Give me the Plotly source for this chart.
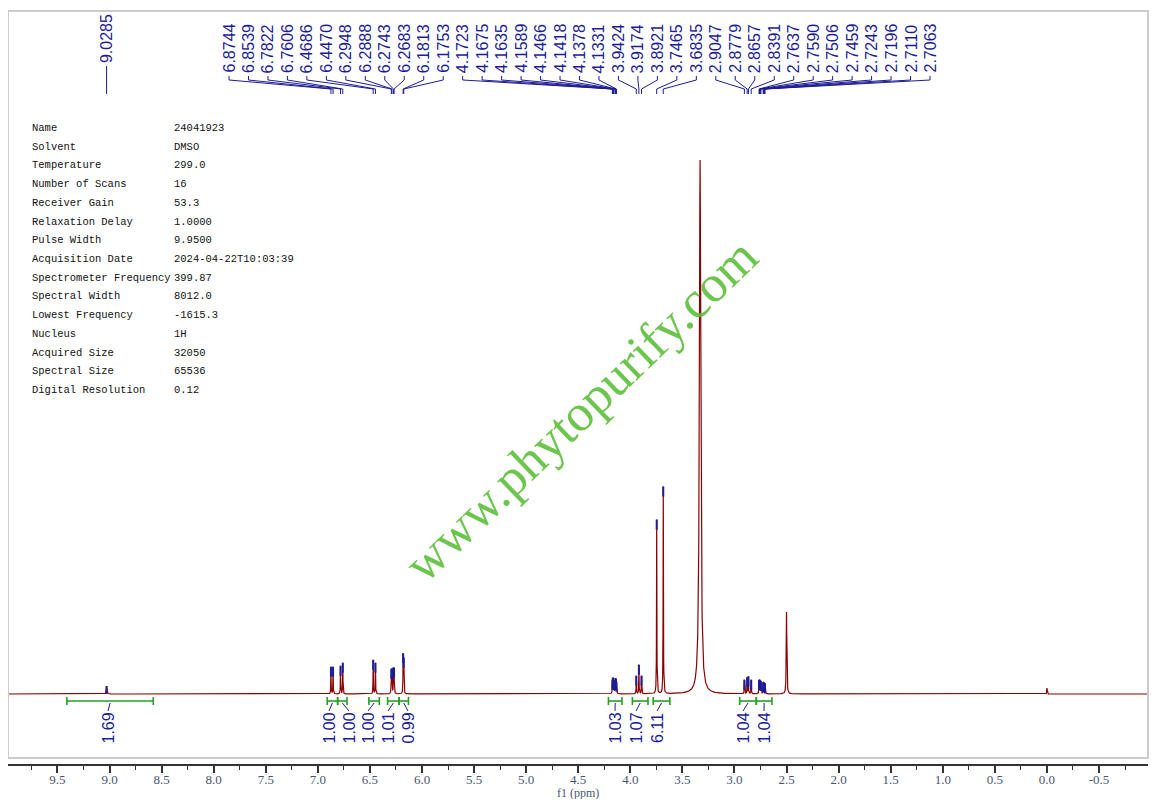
import numpy as np
import plotly.graph_objects as go

# ---- data -----------------------------------------------------------------
# picked peaks (ppm) and apparent height above baseline (same units as y axis)
pick_ppm = [9.0285,
            6.8744, 6.8539, 6.7822, 6.7606, 6.4686, 6.4470,
            6.2948, 6.2888, 6.2743, 6.2683, 6.1813, 6.1753,
            4.1723, 4.1675, 4.1635, 4.1589, 4.1466, 4.1418, 4.1378, 4.1331,
            3.9424, 3.9174, 3.8921, 3.7465, 3.6835,
            2.9047, 2.8779, 2.8657, 2.8391, 2.7637, 2.7590, 2.7506, 2.7459,
            2.7243, 2.7196, 2.7110, 2.7063]
pick_height = [8,
               27, 27, 28, 31, 34, 31,
               23, 23, 24, 24, 38, 33,
               12, 12, 12, 11, 11, 12, 11, 10,
               18, 29, 18, 174, 207,
               14, 16, 17, 14, 12, 12, 11, 11,
               10, 10, 9, 9]
pick_width = [0.004] + [0.0018] * 37

# unpicked lines: water, DMSO, TMS
other_ppm = [3.33, 2.50, 0.00]
other_height = [534, 82, 6]
other_width = [0.008, 0.003, 0.002]

# integrals
int_from = [9.41, 6.91, 6.81, 6.51, 6.33, 6.22, 4.21, 3.98, 3.78, 2.95, 2.79]
int_to = [8.58, 6.81, 6.72, 6.41, 6.22, 6.13, 4.08, 3.83, 3.62, 2.79, 2.64]
int_value = ["1.69", "1.00", "1.00", "1.00", "1.01", "0.99",
             "1.03", "1.07", "6.11", "1.04", "1.04"]

tick_vals = [9.5, 9.0, 8.5, 8.0, 7.5, 7.0, 6.5, 6.0, 5.5, 5.0, 4.5,
             4.0, 3.5, 3.0, 2.5, 2.0, 1.5, 1.0, 0.5, 0.0, -0.5]
tick_text = ["9.5", "9.0", "8.5", "8.0", "7.5", "7.0", "6.5", "6.0", "5.5",
             "5.0", "4.5", "4.0", "3.5", "3.0", "2.5", "2.0", "1.5", "1.0",
             "0.5", "0.0", "-0.5"]

param_names = ["Name", "Solvent", "Temperature", "Number of Scans",
               "Receiver Gain", "Relaxation Delay", "Pulse Width",
               "Acquisition Date", "Spectrometer Frequency", "Spectral Width",
               "Lowest Frequency", "Nucleus", "Acquired Size", "Spectral Size",
               "Digital Resolution"]
param_values = ["24041923", "DMSO", "299.0", "16", "53.3", "1.0000", "9.9500",
                "2024-04-22T10:03:39", "399.87", "8012.0", "-1615.3", "1H",
                "32050", "65536", "0.12"]

# ---- layout geometry (page pixels of the 1157x807 window) ------------------
OFF = 8              # browser body margin
W, H = 1157 - 2 * OFF, 807 - 2 * OFF
PL, PR, PT, PB = 8, 1148, 11, 764
X0 = 1046.9          # page x of 0 ppm
PPM_PX = 104.15      # pixels per ppm
BASE = 694           # page y of the baseline

def ppm_at(px):
    return (X0 - px) / PPM_PX

def ydat(py):
    return BASE - py

def xpaper(px):
    return (px - PL) / (PR - PL)

def ypaper(py):
    return (PB - py) / (PB - PT)

RED = "#8b0000"
BLUE = "#1c1c96"
GREEN = "#22a022"

x_left, x_right = ppm_at(PL), ppm_at(PR)

# ---- spectrum -------------------------------------------------------------
centers = np.array(pick_ppm + other_ppm)
heights = np.array(pick_height + other_height, dtype=float)
widths = np.array(pick_width + other_width)

def spectrum(x):
    out = np.zeros_like(x, dtype=float)
    for c, h, w in zip(centers, heights, widths):
        out += h * w**2 / ((x - c)**2 + w**2)
    return out

grid = np.sort(np.concatenate([np.arange(x_right, x_left, 0.001), centers]))[::-1]
spec = spectrum(grid)

fig = go.Figure()
fig.add_trace(go.Scatter(x=grid, y=spec, mode="lines",
                         line=dict(color=RED, width=1.2), hoverinfo="skip"))

# blue pick highlights on the peak tops
top = spectrum(np.array(pick_ppm))
bx, by = [], []
for p, t in zip(pick_ppm, top):
    bx += [p, p, None]
    by += [max(t - 10, 0), t, None]
fig.add_trace(go.Scatter(x=bx, y=by, mode="lines",
                         line=dict(color=BLUE, width=2), hoverinfo="skip"))

# ---- peak labels with leader lines ----------------------------------------
annotations = []
label_font = dict(family="Liberation Sans", size=16, color=BLUE)
group = pick_ppm[1:]
label_px = np.linspace(229, 930, len(group))
lx, ly = [], []
for p, px in zip(group, label_px):
    lp = ppm_at(px)
    lx += [lp, lp, p, p, None]
    ly += [ydat(76), ydat(80), ydat(89), ydat(94), None]
    annotations.append(dict(x=lp, y=ydat(75), xref="x", yref="y",
                            text=f"{p:.4f}", textangle=-90, showarrow=False,
                            xanchor="center", yanchor="bottom", font=label_font))
p0 = pick_ppm[0]
lx += [p0, p0, None]
ly += [ydat(66), ydat(94), None]
annotations.append(dict(x=p0, y=ydat(65), xref="x", yref="y",
                        text=f"{p0:.4f}", textangle=-90, showarrow=False,
                        xanchor="center", yanchor="bottom", font=label_font))

# ---- integrals ------------------------------------------------------------
int_label_px = [108, 329, 349, 368, 388, 408, 615, 636, 657, 743, 764]
gx, gy = [], []
for a, b, v, px in zip(int_from, int_to, int_value, int_label_px):
    gx += [a, b, None, a, a, None, b, b, None]
    gy += [ydat(701)] * 2 + [None] + [ydat(697), ydat(705), None] * 2
    c = (a + b) / 2
    lp = ppm_at(px)
    lx += [c, lp, None]
    ly += [ydat(703), ydat(711), None]
    annotations.append(dict(x=lp, y=ydat(711), xref="x", yref="y",
                            text=v, textangle=-90, showarrow=False,
                            xanchor="center", yanchor="top", font=label_font))

fig.add_trace(go.Scatter(x=lx, y=ly, mode="lines",
                         line=dict(color=BLUE, width=1), hoverinfo="skip"))
fig.add_trace(go.Scatter(x=gx, y=gy, mode="lines",
                         line=dict(color=GREEN, width=1.6), hoverinfo="skip"))

# ---- acquisition parameters ----------------------------------------------
for i, (n, v) in enumerate(zip(param_names, param_values)):
    yy = ypaper(128 + i * 18.71)
    for txt, px in ((n, 30), (v, 172)):
        annotations.append(dict(x=xpaper(px), y=yy, xref="paper", yref="paper",
                                text=txt, showarrow=False, xanchor="left",
                                yanchor="middle",
                                font=dict(family="Liberation Mono", size=10.5,
                                          color="#111111")))

# watermark
annotations.append(dict(x=xpaper(580), y=ypaper(410), xref="paper", yref="paper",
                        text="www.phytopurify.com", textangle=-44, showarrow=False,
                        xanchor="center", yanchor="middle",
                        font=dict(family="Liberation Serif", size=52, color="#5dbf3a"),
                        opacity=0.9))

# axis title
annotations.append(dict(x=xpaper(578), y=ypaper(793), xref="paper", yref="paper",
                        text="f1 (ppm)", showarrow=False,
                        xanchor="center", yanchor="middle",
                        font=dict(family="Liberation Serif", size=12, color="#4a5470")))

fig.update_layout(
    width=W, height=H,
    margin=dict(l=PL - OFF, r=W - (PR - OFF), t=PT - OFF, b=H - (PB - OFF)),
    paper_bgcolor="white", plot_bgcolor="white",
    showlegend=False,
    annotations=annotations,
    shapes=[dict(type="rect", xref="paper", yref="paper",
                 x0=0, x1=1, y0=ypaper(758), y1=1,
                 line=dict(color="#cccccc", width=2))],
    xaxis=dict(range=[x_left, x_right], showgrid=False, zeroline=False,
               showline=True, linecolor="#333333", linewidth=2,
               tickmode="array", tickvals=tick_vals, ticktext=tick_text,
               ticks="outside", ticklen=7, tickwidth=1.5, tickcolor="#333333",
               ticklabelstandoff=-5,
               minor=dict(dtick=0.25, tick0=0.25, ticks="outside", ticklen=4,
                          tickwidth=1.2, tickcolor="#333333"),
               tickfont=dict(family="Liberation Serif", size=13, color="#4a5470")),
    yaxis=dict(range=[ydat(PB), ydat(PT)], visible=False, showgrid=False,
               zeroline=False),
)

fig.write_html("out.html")
